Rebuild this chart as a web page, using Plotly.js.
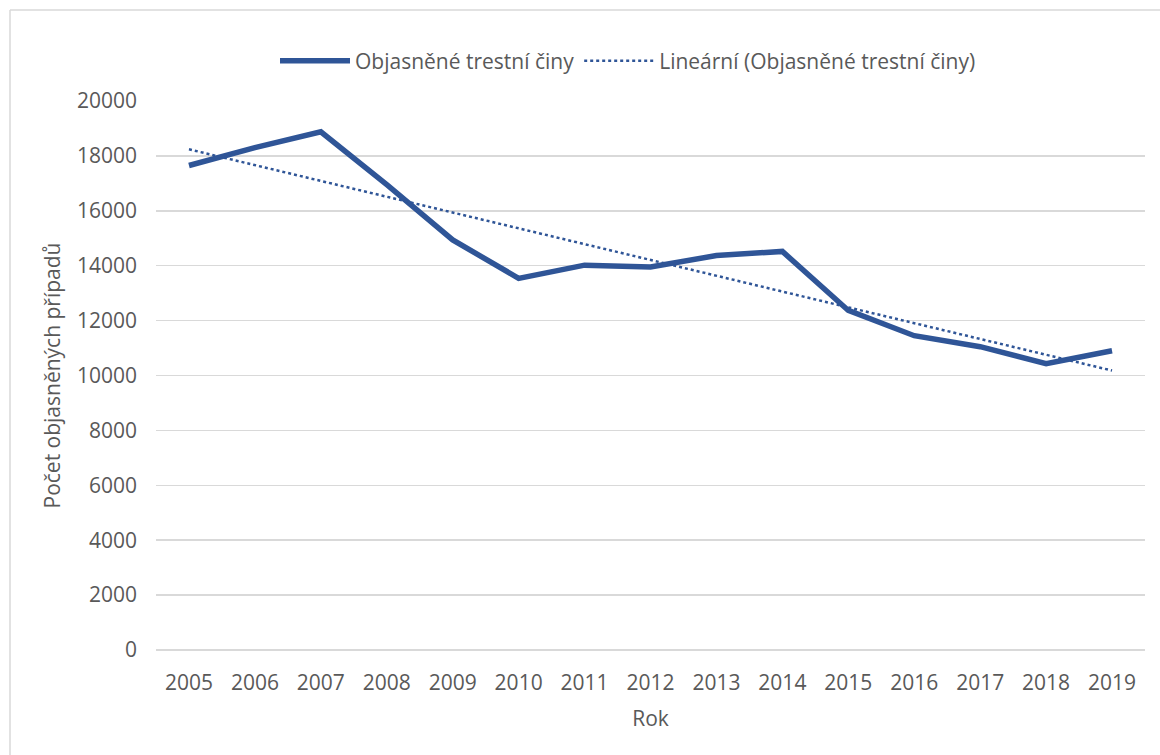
<!DOCTYPE html>
<html>
<head>
<meta charset="utf-8">
<script src="https://cdn.plot.ly/plotly-3.0.1.min.js"></script>
<style>
  html, body { margin: 0; padding: 0; background: #fff; }
  #chart { width: 1160px; height: 755px; }
</style>
</head>
<body>
<div id="chart"></div>
<script>
const years = ['2005','2006','2007','2008','2009','2010','2011','2012','2013','2014','2015','2016','2017','2018','2019'];
const solvedCrimes = [17650, 18300, 18880, 16950, 14940, 13540, 14020, 13950, 14370, 14520, 12370, 11450, 11050, 10430, 10900];
const trendYears = ['2005', '2019'];
const trendValues = [18240, 10180];
const yTicks = [0, 2000, 4000, 6000, 8000, 10000, 12000, 14000, 16000, 18000, 20000];

const seriesName = 'Objasněné trestní činy';
const trendName = 'Lineární (Objasněné trestní činy)';

const blue = '#2F5597';
const textColor = '#595959';
const fontFamily = '"Open Sans", "Noto Sans", sans-serif';
const fs = 21;

const traces = [
  {
    x: years, y: solvedCrimes, name: seriesName, type: 'scatter', mode: 'lines',
    line: { color: blue, width: 5.5 }
  },
  {
    x: trendYears, y: trendValues, name: trendName, type: 'scatter', mode: 'lines',
    line: { color: blue, width: 2.5, dash: 'dot' }
  }
];

const L = 156, R = 15, T = 101, B = 105;
const pw = 1160 - L - R, ph = 755 - T - B;

const layout = {
  width: 1160, height: 755,
  margin: { l: L, r: R, t: T, b: B, pad: 0 },
  paper_bgcolor: '#ffffff', plot_bgcolor: '#ffffff',
  font: { family: fontFamily, size: fs, color: textColor },
  showlegend: true,
  legend: {
    orientation: 'h', x: (628 - L) / pw, xanchor: 'center', y: 1 + 40 / ph, yanchor: 'middle',
    font: { family: fontFamily, size: fs, color: textColor },
    itemwidth: 70, tracegroupgap: 0, bgcolor: 'rgba(0,0,0,0)'
  },
  xaxis: {
    type: 'category', range: [-0.5, 14.5],
    showgrid: false, showline: false, zeroline: false, ticks: '',
    ticklabelstandoff: 18,
    tickfont: { family: fontFamily, size: fs, color: textColor },
    title: { text: 'Rok', font: { family: fontFamily, size: fs, color: textColor }, standoff: 16 },
    fixedrange: true
  },
  yaxis: {
    range: [0, 20000], tickvals: yTicks, ticktext: yTicks.map(String),
    showgrid: true, gridcolor: '#d9d9d9', gridwidth: 1.5,
    zeroline: true, zerolinecolor: '#d9d9d9', zerolinewidth: 1.5,
    showline: false, ticks: '', ticklabelstandoff: 18,
    tickfont: { family: fontFamily, size: fs, color: textColor },
    title: { text: 'Počet objasněných případů', font: { family: fontFamily, size: fs, color: textColor }, standoff: 10 },
    fixedrange: true
  },
  shapes: [
    { type: 'line', xref: 'paper', yref: 'paper',
      x0: (10 - L) / pw, x1: (1165 - L) / pw, y0: 1 + (T - 10) / ph, y1: 1 + (T - 10) / ph,
      line: { color: '#d9d9d9', width: 1.5 } },
    { type: 'line', xref: 'paper', yref: 'paper',
      x0: (10 - L) / pw, x1: (10 - L) / pw, y0: 1 + (T - 10) / ph, y1: -(B + 5) / ph,
      line: { color: '#d9d9d9', width: 1.5 } }
  ]
};

Plotly.newPlot('chart', traces, layout, { displayModeBar: false, staticPlot: true });
</script>
</body>
</html>
